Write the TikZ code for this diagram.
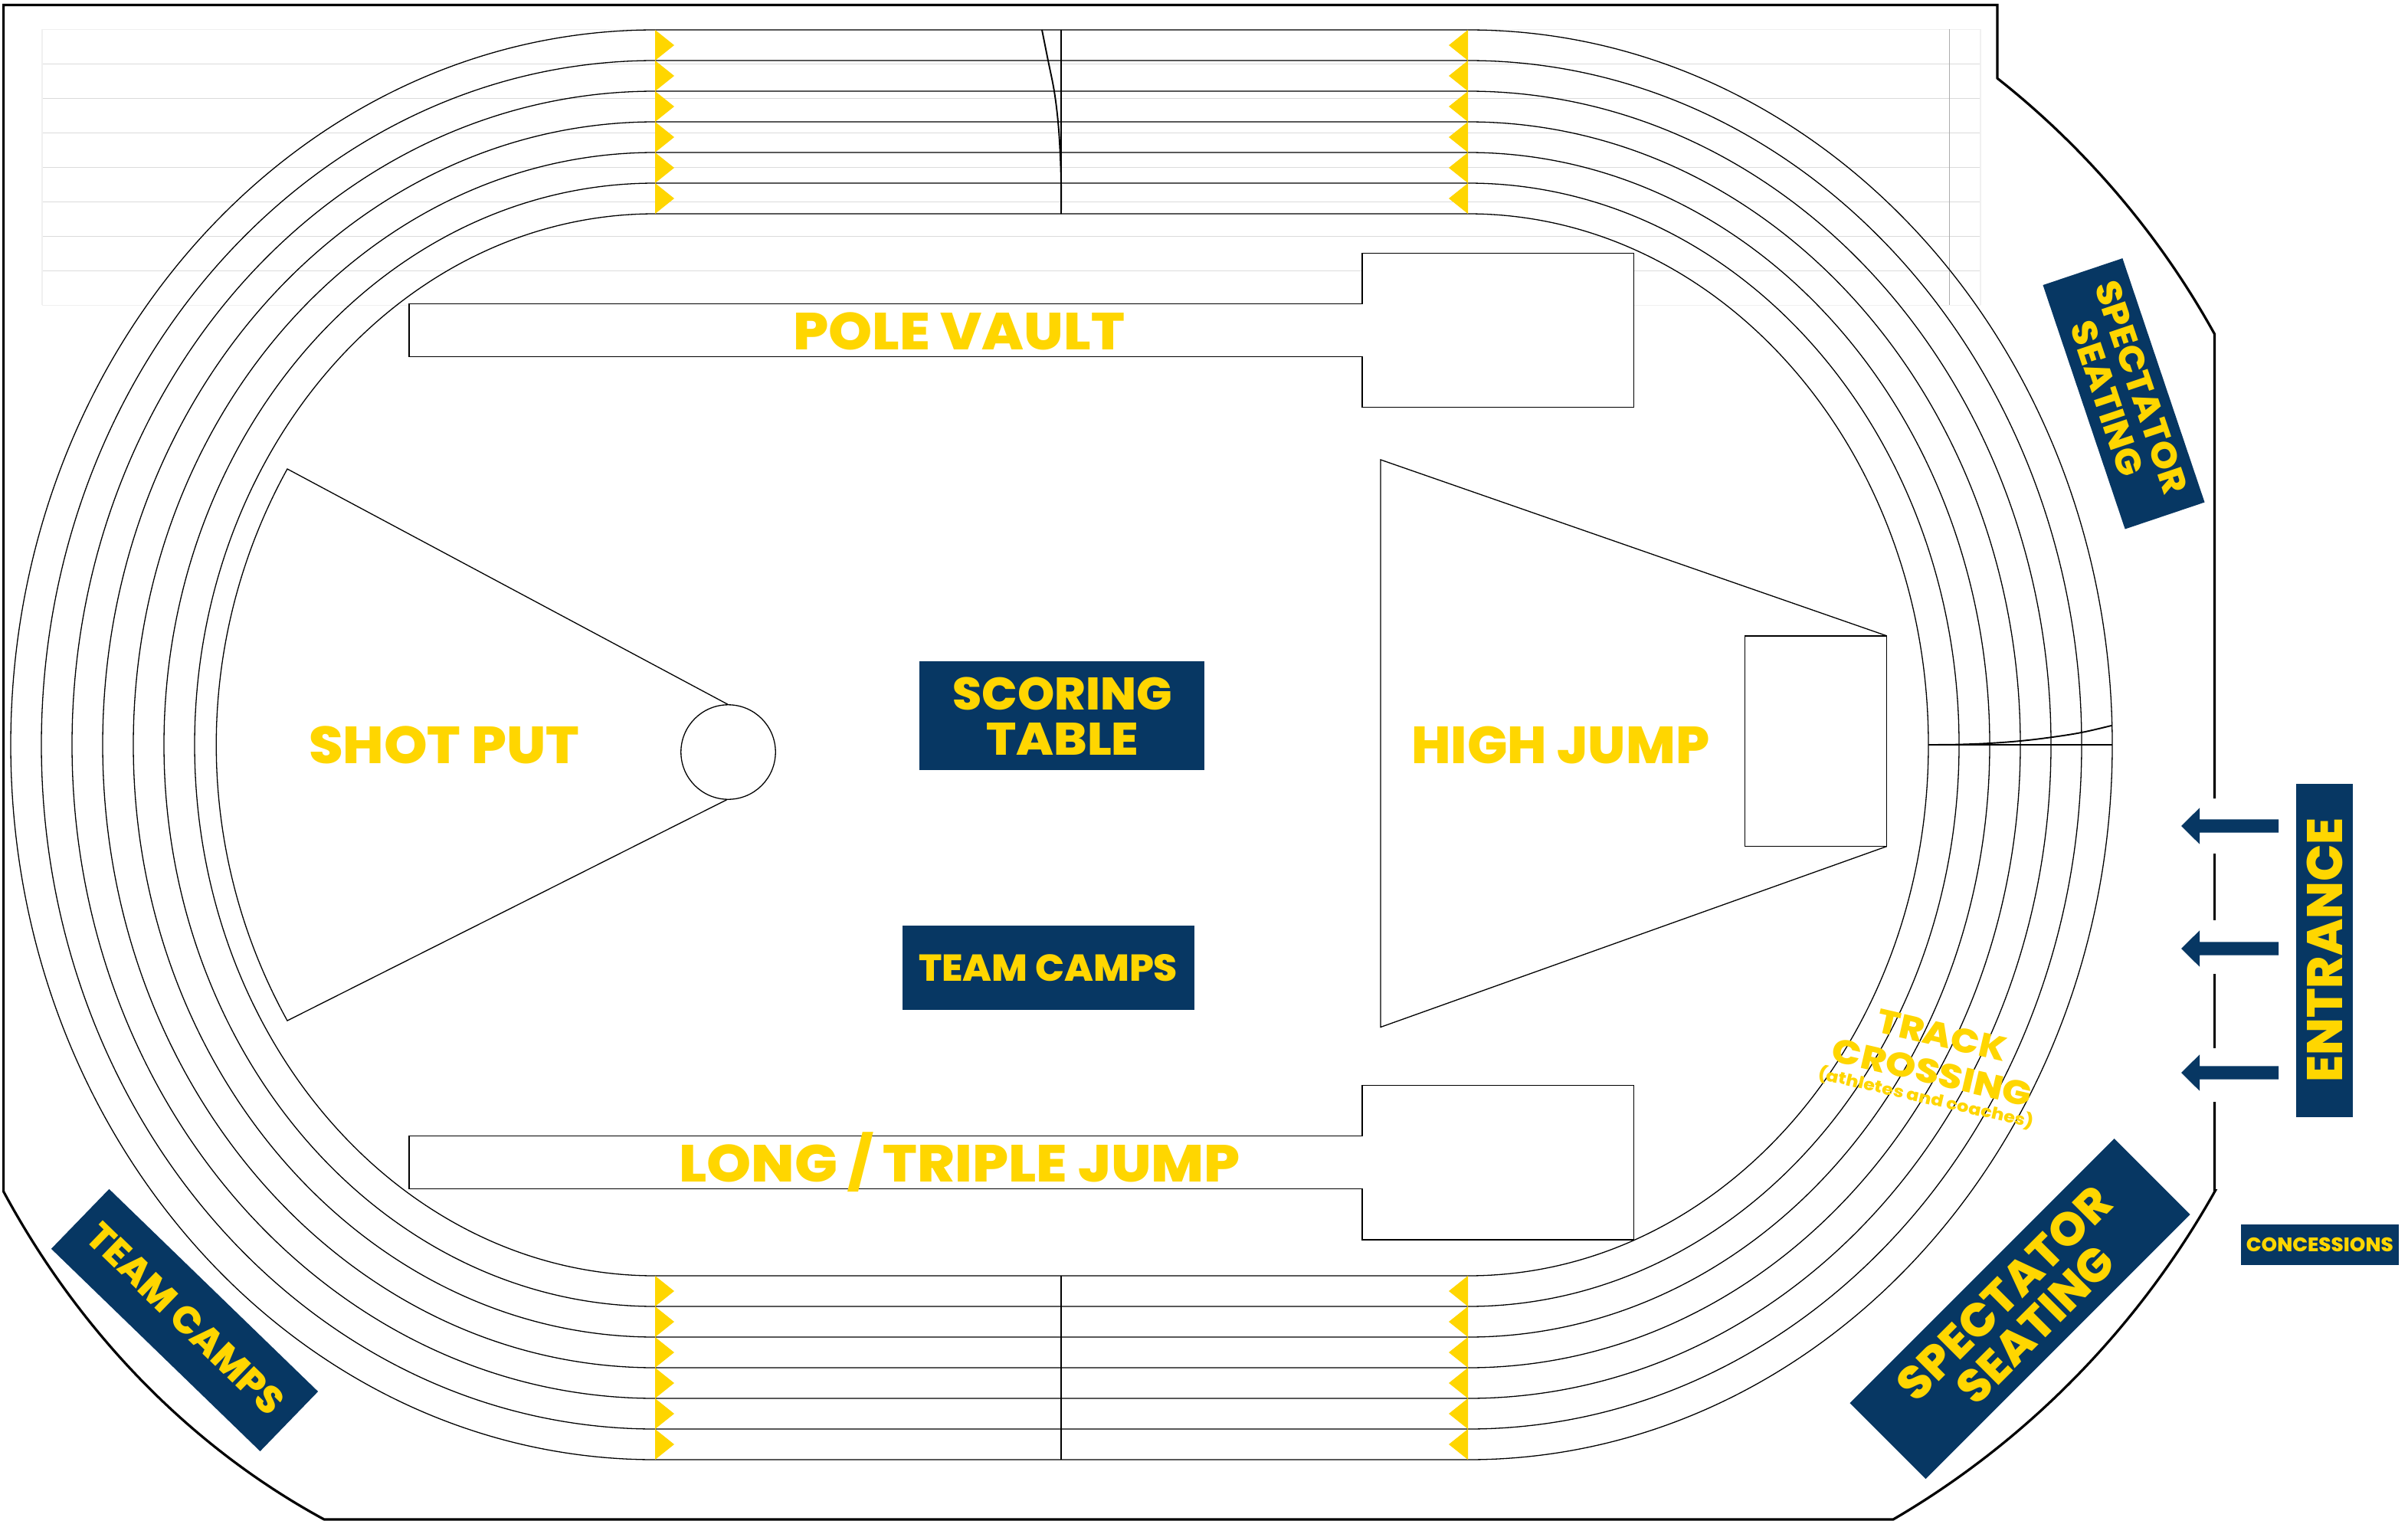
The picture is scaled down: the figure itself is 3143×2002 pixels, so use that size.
\documentclass[tikz,border=0pt]{standalone}
\usepackage{graphicx}
\usepackage{fontspec}
\setmainfont{Poppins}[BoldFont={Poppins ExtraBold}]
\definecolor{navy}{HTML}{073763}
\definecolor{gold}{HTML}{FFD600}
\newcommand{\fitt}[3]{%
  \pgfmathsetmacro{\fitsize}{#2/0.7}%
  \setbox0=\hbox{\fontsize{\fitsize}{\fitsize}\selectfont\bfseries #3}%
  \setbox2=\hbox{\fontsize{\fitsize}{\fitsize}\selectfont\bfseries H}%
  \pgfmathsetmacro{\fitx}{#1/\wd0}%
  \pgfmathsetmacro{\fity}{#2/\ht2}%
  \scalebox{\fitx}[\fity]{\box0}}
\tikzset{
  wall/.style={line width=3.2pt,black,line join=miter},
  lane/.style={line width=1.3pt,black},
  finish/.style={line width=1.9pt,black},
  field/.style={line width=1.3pt,black,fill=white,line join=miter},
  gridline/.style={line width=1.2pt,black!14},
  gridfaint/.style={line width=1.2pt,black!6},
  marker/.style={fill=gold,draw=none},
  panel/.style={fill=navy,draw=none,inner sep=0pt,outer sep=0pt},
  lab/.style={text=gold,inner sep=0pt,outer sep=0pt},
  pointer/.style={fill=navy,draw=none}
}
\begin{document}
\begin{tikzpicture}[x=1pt,y=-1pt]
\useasboundingbox (0,0) rectangle (3143,2002);
\fill[white] (0,0) rectangle (3143,2002);
% faint background grid
\foreach \k in {1,...,7}{\draw[gridline] (55,38.3+45*\k) -- (2585,38.3+45*\k);}
\draw[gridfaint] (55,38.3) -- (2585,38.3);
\draw[gridfaint] (55,398.3) -- (2585,398.3);
\draw[gridfaint] (55,38.3) -- (55,398.3);
\draw[gridfaint] (2585,38.3) -- (2585,398.3);
\draw[line width=1.2pt,black!32] (2544.5,38.3) -- (2544.5,398.3);
% outer wall
\draw[wall] (2890.5,1042) -- (2890.5,436)
  arc[start angle=-28.9,end angle=-51.6,x radius=1113,y radius=1110]
  -- (2607,102) -- (2607,6.5) -- (4.6,6.5) -- (4.6,1555)
  arc[start angle=148.7,end angle=115.7,x radius=995,y radius=1122]
  -- (424,1983) -- (2471,1983)
  arc[start angle=60.5,end angle=30.07,x radius=1127,y radius=1162]
  -- (2890.5,1554) -- (2890.5,1438);
\draw[wall] (2890.5,1114) -- (2890.5,1201);
\draw[wall] (2890.5,1271) -- (2890.5,1368);
% lanes
\foreach \i in {0,...,6}{
  \pgfmathsetmacro{\ra}{601+40*\i}
  \pgfmathsetmacro{\rb}{693+40*\i}
  \draw[lane] (855,972-\rb) arc[start angle=-90,end angle=-270,x radius=\ra,y radius=\rb]
    -- (1916,972+\rb) arc[start angle=90,end angle=-90,x radius=\ra,y radius=\rb] -- cycle;
}
% lane markers
\foreach \t in {39,79,119,159,199,239,1665,1705,1745,1785,1825,1865}{
  \fill[marker] (855,\t) -- (880,\t+20) -- (855,\t+40) -- cycle;
  \fill[marker] (1916,\t) -- (1891,\t+20) -- (1916,\t+40) -- cycle;
}
% finish and stagger lines
\draw[finish] (1385,39) -- (1385,279);
\draw[finish] (1385,1665) -- (1385,1905);
\draw[finish] (2517,972) -- (2757,972);
\draw[finish] plot[smooth,tension=0.6] coordinates {(1360,39) (1368,79) (1376,119) (1381,159) (1383.7,199) (1385,239) (1385,279)};
\draw[finish] plot[smooth,tension=0.6] coordinates {(2517,972) (2556.5,971.6) (2597,970) (2637,967) (2676,962.4) (2716.7,956) (2757,946.7)};
% field events
\draw[field] (534,396.7) -- (1778,396.7) -- (1778,330.7) -- (2132.6,330.7) -- (2132.6,531.7) -- (1778,531.7) -- (1778,465.7) -- (534,465.7) -- cycle;
\draw[field] (534,1482.7) -- (1778,1482.7) -- (1778,1416.7) -- (2132.6,1416.7) -- (2132.6,1618) -- (1778,1618) -- (1778,1551.7) -- (534,1551.7) -- cycle;
\draw[field] (950,919.3) -- (375,612) arc[start angle=208.9,end angle=151.1,radius=745] -- (950,1043);
\node[field,circle,draw,minimum size=123.4pt,inner sep=0pt] (ring) at (950.5,981.5) {};
\draw[field] (1802,600) -- (2462.3,829.7) -- (2462.3,1104.7) -- (1802,1340.5) -- cycle;
\draw[field] (2277.2,830) rectangle (2462.3,1104.7);
% panels
\node[panel,minimum width=371.9pt,minimum height=142.4pt] (scoring) at (1385.9,934.2) {};
\node[panel,minimum width=380.8pt,minimum height=110pt] (campsmid) at (1368.1,1263.2) {};
\node[panel,minimum width=205.6pt,minimum height=53pt] (conc) at (3027.8,1624.5) {};
\node[panel,minimum width=434.6pt,minimum height=74pt,rotate=90] (ent) at (3034,1240.3) {};
\node[panel,minimum width=488pt,minimum height=140pt,rotate=45] (specb) at (2636.5,1708) {};
\node[panel,minimum width=336pt,minimum height=109.6pt,rotate=-71.4] (spect) at (2772,513.8) {};
\node[panel,minimum width=379.7pt,minimum height=108.6pt,rotate=-44.1] (campsl) at (241,1722.9) {};
% entrance arrows
\foreach \y in {1078,1238,1400}{
  \fill[pointer] (2847,\y) -- (2871,\y-23.7) -- (2871,\y-8.6) -- (2974,\y-8.6) -- (2974,\y+8.6) -- (2871,\y+8.6) -- (2871,\y+23.7) -- cycle;
}
% labels
\node[lab] (t1) at (1251.5,432) {\fitt{433}{48}{POLE VAULT}};
\node[lab] (t2) at (1252.5,1517) {\fitt{733}{48}{LONG / TRIPLE JUMP}};
\node[lab] (t3) at (579.5,972.5) {\fitt{353}{48}{SHOT PUT}};
\node[lab] (t4) at (2036.6,972.5) {\fitt{389}{48}{HIGH JUMP}};
\node[lab] (t5) at (1386.6,905) {\fitt{286}{42}{SCORING}};
\node[lab] (t6) at (1387,964.3) {\fitt{199}{42}{TABLE}};
\node[lab] (t7) at (1368,1263) {\fitt{338}{34.5}{TEAM CAMPS}};
\node[lab] (t8) at (3027.8,1624.8) {\fitt{192}{18}{CONCESSIONS}};
\node[lab,rotate=90] (t9) at (3034.5,1240) {\fitt{345}{46}{ENTRANCE}};
\node[lab,rotate=45] (t10) at (2616,1687.5) {\fitt{366}{43}{SPECTATOR}};
\node[lab,rotate=45] (t11) at (2657,1728.5) {\fitt{262}{43}{SEATING}};
\node[lab,rotate=-71.4] (t12) at (2795,505.5) {\fitt{290}{32.5}{SPECTATOR}};
\node[lab,rotate=-71.4] (t13) at (2750,520) {\fitt{210}{32.5}{SEATING}};
\node[lab,rotate=-44.1] (t14) at (242.4,1721) {\fitt{335}{35}{TEAM CAMPS}};
\node[lab,rotate=-13] (t15) at (2534.5,1351) {\fitt{172}{31}{TRACK}};
\node[lab,rotate=-13] (t16) at (2522,1399.5) {\fitt{266}{31}{CROSSING}};
\node[lab,rotate=-13] (t17) at (2514,1433) {\fitt{288}{15}{(athletes and coaches)}};
\end{tikzpicture}
\end{document}
